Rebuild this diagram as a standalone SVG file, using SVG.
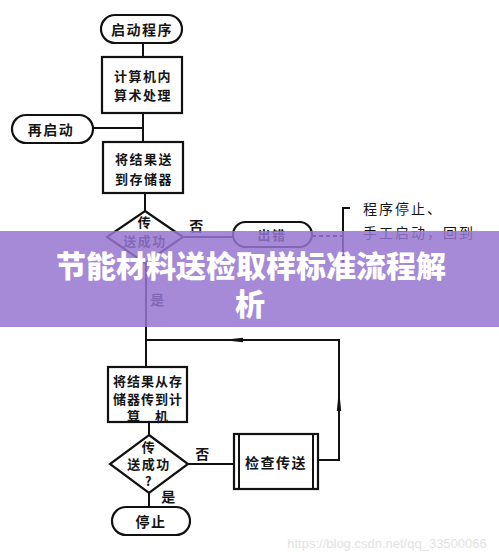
<svg xmlns="http://www.w3.org/2000/svg" width="499" height="559" viewBox="0 0 499 559">
<style>
.s{fill:#fff;stroke:#111;stroke-width:2.2}
.l{fill:none;stroke:#111;stroke-width:2}
.t{font-family:"Noto Sans CJK SC","Noto Sans",sans-serif;font-size:14px;font-weight:bold;fill:#151515;text-anchor:middle;dominant-baseline:central;letter-spacing:1.5px}
.m{font-size:13px}
.n{font-family:"Noto Sans CJK SC","Noto Sans",sans-serif;font-size:14px;fill:#151515;letter-spacing:2px;dominant-baseline:central}
.b{font-family:"Noto Sans CJK SC","Noto Sans",sans-serif;font-size:30px;font-weight:900;fill:#fff;text-anchor:middle;dominant-baseline:central}
</style>
<rect width="499" height="559" fill="#fff"/>
<g id="connectors">
<path class="l" d="M143,43 V57"/>
<path class="l" d="M143,113 V142"/>
<path class="l" d="M93,128 H143"/>
<path class="l" d="M145,193 V211"/>
<path class="l" d="M183,237 H233"/>
<path class="l" d="M312,236 H343" stroke-dasharray="4 3"/>
<path class="l" d="M350,208 H343 V262"/>
<path class="l" d="M146,262 V367"/>
<path class="l" d="M149,422 V435"/>
<path class="l" d="M188,464 H234"/>
<path class="l" d="M149,493 V507"/>
<path class="l" d="M318,460 H339 V340 H146"/>
<path d="M222,340 L243,337.8 L243,342.2 Z" fill="#111"/>
<path d="M339,389 L336.8,411 L341.2,411 Z" fill="#111"/>
</g>
<g id="start"><rect class="s" x="101" y="15" width="81" height="28" rx="14"/><text class="t" x="142" y="29">启动程序</text></g>
<g id="calc"><rect class="s" x="102" y="57" width="80" height="56"/><text class="t m" x="143" y="75">计算机内</text><text class="t m" x="143" y="94">算术处理</text></g>
<g id="restart"><rect class="s" x="12" y="115" width="81" height="28" rx="14"/><text class="t" x="51" y="129">再启动</text></g>
<g id="store"><rect class="s" x="103" y="142" width="80" height="51"/><text class="t m" x="144" y="158">将结果送</text><text class="t m" x="144" y="178">到存储器</text></g>
<g id="check1"><path class="s" d="M145,211 L183,237 L145,263 L107,237 Z"/><text class="t m" x="145" y="221">传</text><text class="t m" x="145" y="240">送成功</text></g>
<text class="t" x="197" y="225">否</text>
<g id="error"><rect class="s" x="233" y="222" width="79" height="25" rx="12.5"/><text class="t m" x="272" y="234">出错</text></g>
<g id="note"><text class="n" x="363" y="208">程序停止、</text><text class="n" x="363" y="232">手工启动，回到</text></g>
<text class="t" x="158" y="299">是</text>
<g id="fetch"><rect class="s" x="108" y="367" width="79" height="55"/><text class="t m" x="148" y="380" style="letter-spacing:1px">将结果从存</text><text class="t m" x="148" y="398" style="letter-spacing:1px">储器传到计</text><text class="t m" x="148" y="415" style="letter-spacing:1px">算　机</text></g>
<g id="check2"><path class="s" d="M149,435 L188,464 L149,493 L110,464 Z"/><text class="t m" x="149" y="446">传</text><text class="t m" x="149" y="463">送成功</text><text class="t m" x="149" y="480">?</text></g>
<text class="t" x="203" y="453">否</text>
<g id="verify"><rect class="s" x="234" y="434" width="84" height="55"/><path class="l" d="M239,434 V489 M313,434 V489"/><text class="t" x="276" y="462">检查传送</text></g>
<text class="t" x="169" y="496">是</text>
<g id="stop"><rect class="s" x="112" y="507" width="78" height="28" rx="14"/><text class="t" x="151" y="521">停止</text></g>
<g id="banner"><rect x="0" y="231" width="499" height="96" fill="#9676d1" opacity="0.85"/><text class="b" x="251" y="264">节能材料送检取样标准流程解</text><text class="b" x="250" y="302">析</text></g>
<text x="387" y="543" font-family="Liberation Sans,sans-serif" font-size="13" fill="#e2e2e2" text-anchor="middle" dominant-baseline="central">https://blog.csdn.net/qq_33500066</text>
</svg>
